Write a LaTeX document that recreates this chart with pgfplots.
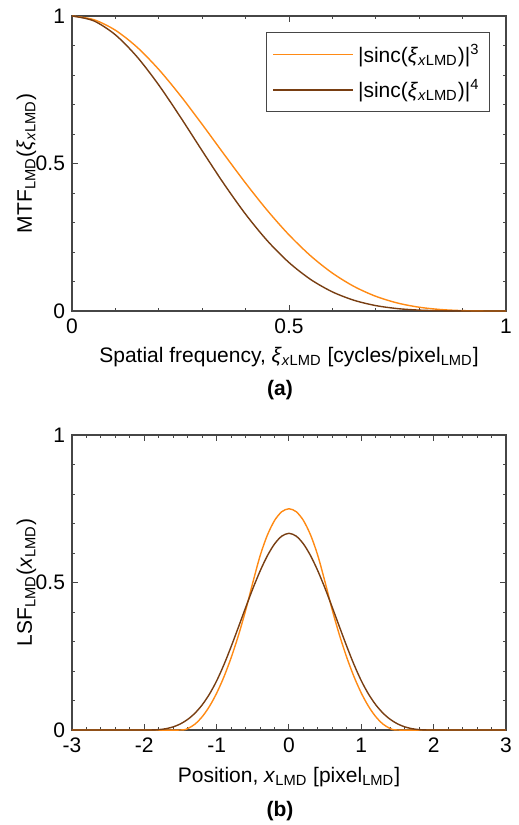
\documentclass[border=0pt]{standalone}
\usepackage{pgfplots}
\pgfplotsset{compat=1.18}
\usepackage{fontspec}
\setmainfont{Liberation Sans}
\definecolor{cthree}{RGB}{255,138,20}
\definecolor{cfour}{RGB}{120,62,18}
\definecolor{axgray}{RGB}{70,70,70}
\pgfplotsset{
  common/.style={
    width=217pt, height=147.5pt, scale only axis,
    axis line style={axgray, line width=0.6pt},
    every tick/.style={axgray, line width=0.5pt},
    tick align=inside,
    major tick length=3pt, minor tick length=1.6pt,
    tick label style={font=\fontsize{10.5}{12}\selectfont},
    xticklabel style={yshift=-0.5pt},
    /pgf/number format/assume math mode=true,
    ymin=0, ymax=1, ytick={0,0.5,1}, minor ytick={0.1,0.2,0.3,0.4,0.6,0.7,0.8,0.9},
    yticklabels={0,0.5,1},
    ylabel style={at={(axis description cs:-0.0922,0.5)}, anchor=base, font=\fontsize{10.5}{12}\selectfont},
    xlabel style={font=\fontsize{10.5}{12}\selectfont},
    every axis plot/.append style={line width=0.7pt, no markers},
  }
}
\begin{document}
\begin{tikzpicture}
\useasboundingbox (-36pt,-257pt) rectangle (223.5pt,155.5pt);
% ---------- (a) MTF ----------
\begin{axis}[common, at={(0,0)}, anchor=south west,
  xmin=0, xmax=1, xtick={0,0.5,1}, xticklabels={0,0.5,1},
  minor xtick={0.1,0.2,0.3,0.4,0.6,0.7,0.8,0.9},
  xlabel={Spatial frequency, \textit{ξ}\textsubscript{\textit{x}LMD} [cycles/pixel\textsubscript{LMD}]},
  xlabel style={at={(axis description cs:0.5,0)}, anchor=base, yshift=-25.5pt},
  ylabel={MTF\textsubscript{LMD}(\textit{ξ}\textsubscript{\textit{x}LMD})},
  legend style={at={(rel axis cs:0.9631,0.9444)}, anchor=north east, draw=axgray, line width=0.5pt,
    font=\fontsize{10.5}{12}\selectfont, row sep=3pt, inner xsep=3pt, inner ysep=3.5pt},
  legend cell align=left,
  legend image code/.code={\draw[#1, line width=0.9pt] (0pt,0pt) -- (40pt,0pt);},
]
\addplot[draw=cthree, smooth] coordinates {
(0,1) (0.05,0.98771) (0.1,0.95168) (0.15,0.894161) (0.2,0.818684) (0.25,0.729768)
(0.3,0.632499) (0.35,0.532093) (0.4,0.433501) (0.45,0.341015) (0.5,0.258012)
(0.55,0.186772) (0.6,0.128445) (0.65,0.083072) (0.7,0.049789) (0.75,0.027028)
(0.8,0.012792) (0.85,0.004914) (0.9,0.001305) (0.95,0.000144) (1,0)
};
\addlegendentry{|sinc(\textit{ξ}\textsubscript{\textit{x}LMD})|\textsuperscript{3}}
\addplot[draw=cfour, smooth] coordinates {
(0,1) (0.05,0.98365) (0.1,0.93610) (0.15,0.861432) (0.2,0.765870) (0.25,0.657022)
(0.3,0.542934) (0.35,0.431171) (0.4,0.328084) (0.45,0.238249) (0.5,0.164256)
(0.55,0.106762) (0.6,0.064807) (0.65,0.036247) (0.7,0.018316) (0.75,0.008111)
(0.8,0.002992) (0.85,0.000835) (0.9,0.000143) (0.95,0.0000075) (1,0)
};
\addlegendentry{|sinc(\textit{ξ}\textsubscript{\textit{x}LMD})|\textsuperscript{4}}
\end{axis}
\node[font=\bfseries\fontsize{10.5}{12}\selectfont, anchor=base] at (104pt,-42pt) {(a)};
% ---------- (b) LSF ----------
\begin{axis}[common, at={(0,-209.5pt)}, anchor=south west,
  xmin=-3, xmax=3, xtick={-3,-2,-1,0,1,2,3}, xticklabels={-3,-2,-1,0,1,2,3},
  minor x tick num=4,
  xlabel={Position, \textit{x}\textsubscript{LMD} [pixel\textsubscript{LMD}]},
  xlabel style={at={(axis description cs:0.5,0)}, anchor=base, yshift=-26pt},
  ylabel={LSF\textsubscript{LMD}(\textit{x}\textsubscript{LMD})},
]
\addplot[draw=cthree, smooth] coordinates {
(-3,0) (-2,0) (-1.5,0) (-1.4,0.005) (-1.3,0.02) (-1.2,0.045) (-1.1,0.08) (-1.0,0.125)
(-0.9,0.18) (-0.8,0.245) (-0.7,0.32) (-0.6,0.405) (-0.5,0.5) (-0.4,0.59) (-0.3,0.66)
(-0.2,0.71) (-0.1,0.74) (0,0.75) (0.1,0.74) (0.2,0.71) (0.3,0.66) (0.4,0.59) (0.5,0.5)
(0.6,0.405) (0.7,0.32) (0.8,0.245) (0.9,0.18) (1.0,0.125) (1.1,0.08) (1.2,0.045)
(1.3,0.02) (1.4,0.005) (1.5,0) (2,0) (3,0)
};
\addplot[draw=cfour, smooth] coordinates {
(-3,0) (-2,0) (-1.9,0.000167) (-1.8,0.001333) (-1.7,0.0045) (-1.6,0.010667) (-1.5,0.020833)
(-1.4,0.036) (-1.3,0.057167) (-1.2,0.085333) (-1.1,0.1215) (-1.0,0.166667)
(-0.9,0.221167) (-0.8,0.282667) (-0.7,0.348167) (-0.6,0.414667) (-0.5,0.479167)
(-0.4,0.538667) (-0.3,0.590167) (-0.2,0.630667) (-0.1,0.657167) (0,0.666667)
(0.1,0.657167) (0.2,0.630667) (0.3,0.590167) (0.4,0.538667) (0.5,0.479167)
(0.6,0.414667) (0.7,0.348167) (0.8,0.282667) (0.9,0.221167) (1.0,0.166667)
(1.1,0.1215) (1.2,0.085333) (1.3,0.057167) (1.4,0.036) (1.5,0.020833) (1.6,0.010667)
(1.7,0.0045) (1.8,0.001333) (1.9,0.000167) (2,0) (3,0)
};
\end{axis}
\node[font=\bfseries\fontsize{10.5}{12}\selectfont, anchor=base] at (104pt,-252.5pt) {(b)};
\end{tikzpicture}
\end{document}
